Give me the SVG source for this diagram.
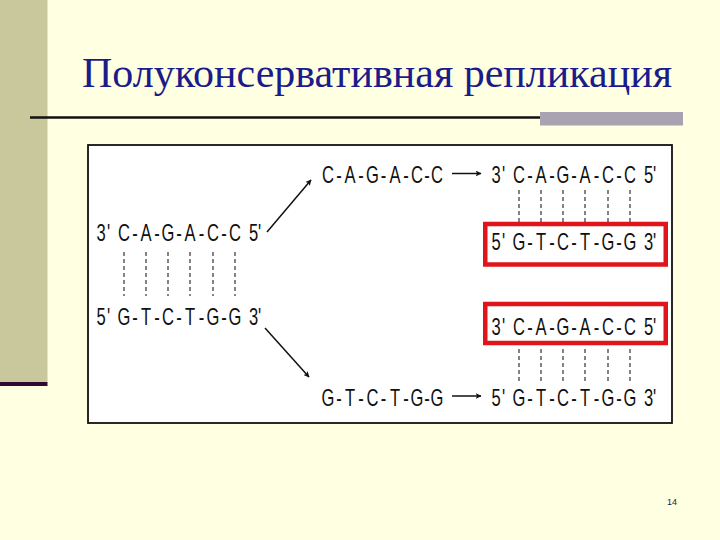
<svg xmlns="http://www.w3.org/2000/svg" width="720" height="540" viewBox="0 0 720 540">
<defs>
<marker id="ah" viewBox="0 0 10 10" refX="9" refY="5" markerWidth="6" markerHeight="6" orient="auto" markerUnits="userSpaceOnUse">
<path d="M0,0 L10,5 L0,10 L2.5,5 Z" fill="#111"/>
</marker>
<style>
.seq{font-family:"Liberation Sans",Arial,sans-serif;font-size:23px;fill:#111;text-anchor:middle}
.hb{stroke:#333;stroke-width:1.2;stroke-dasharray:4 3;fill:none}
.arr{stroke:#111;stroke-width:1.5;fill:none;marker-end:url(#ah)}
.red{fill:none;stroke:#E0141B;stroke-width:4.5}
</style>
</defs>
<rect x="0" y="0" width="720" height="540" fill="#FFFFE1"/>
<rect x="0" y="0" width="47.5" height="382" fill="#C8C89C"/>
<rect x="0" y="382" width="47.5" height="4" fill="#2E0A30"/>
<g id="title">
<text x="82" y="87" font-family="'Liberation Serif','Times New Roman',serif" font-size="42" fill="#1B1B8C">Полуконсервативная репликация</text>
<line x1="30" y1="117.5" x2="541" y2="117.5" stroke="#111" stroke-width="2.5"/>
<rect x="540" y="112" width="143" height="13.5" fill="#A9A2B1"/>
</g>
<rect id="panel" x="88" y="145" width="584" height="278" fill="#FFFFFF" stroke="#111" stroke-width="1.8"/>
<g id="parent">
<text class="seq" transform="scale(0.72 1)" x="140.28 150.69 156.94 172.22 187.5 202.78 218.06 233.33 248.61 263.89 279.86 295.83 311.11 326.39 338.89 352.08 360.42" y="241.5">3' C-A-G-A-C-C 5'</text>
<text class="seq" transform="scale(0.72 1)" x="140.28 150.69 156.94 172.22 187.5 202.78 218.06 233.33 248.61 263.89 279.86 295.83 311.11 326.39 338.89 352.08 360.42" y="325">5' G-T-C-T-G-G 3'</text>
<path class="hb" d="M124,252V296M146,252V296M168,252V296M190,252V296M213,252V296M235,252V296"/>
</g>
<g id="strand-top">
<text class="seq" transform="scale(0.72 1)" x="455.56 470.83 486.11 501.39 517.36 532.64 548.61 563.89 579.17 593.06 606.94" y="183">C-A-G-A-C-C</text>
</g>
<g id="strand-bottom">
<text class="seq" transform="scale(0.72 1)" x="455.56 470.83 486.11 501.39 517.36 532.64 548.61 563.89 579.17 593.06 606.94" y="406.5">G-T-C-T-G-G</text>
</g>
<g id="daughter-1">
<text class="seq" transform="scale(0.72 1)" x="688.89 699.31 705.56 720.83 736.11 751.39 766.67 781.94 797.22 812.5 828.47 844.44 859.72 875 887.5 900.69 909.03" y="183.5">3' C-A-G-A-C-C 5'</text>
<path class="hb" d="M519,190V222M541,190V222M563,190V222M585,190V222M608,190V222M630,190V222"/>
<rect class="red" x="485.25" y="224" width="180.5" height="40.5"/>
<text class="seq" transform="scale(0.72 1)" x="688.89 699.31 705.56 720.83 736.11 751.39 766.67 781.94 797.22 812.5 828.47 844.44 859.72 875 887.5 900.69 909.03" y="250">5' G-T-C-T-G-G 3'</text>
</g>
<g id="daughter-2">
<rect class="red" x="485.25" y="304" width="180.5" height="39"/>
<text class="seq" transform="scale(0.72 1)" x="688.89 699.31 705.56 720.83 736.11 751.39 766.67 781.94 797.22 812.5 828.47 844.44 859.72 875 887.5 900.69 909.03" y="335">3' C-A-G-A-C-C 5'</text>
<path class="hb" d="M519,349V381M541,349V381M563,349V381M585,349V381M608,349V381M630,349V381"/>
<text class="seq" transform="scale(0.72 1)" x="688.89 699.31 705.56 720.83 736.11 751.39 766.67 781.94 797.22 812.5 828.47 844.44 859.72 875 887.5 900.69 909.03" y="406.5">5' G-T-C-T-G-G 3'</text>
</g>
<g id="connectors">
<line class="arr" x1="267" y1="232" x2="311" y2="180"/>
<line class="arr" x1="265" y1="328" x2="309" y2="377"/>
<line class="arr" x1="452" y1="173.5" x2="481" y2="173.5"/>
<line class="arr" x1="452" y1="396" x2="481" y2="396"/>
</g>
<text id="page" x="672" y="505" font-family="'Liberation Sans',Arial,sans-serif" font-size="9" fill="#1B1B50" text-anchor="middle">14</text>
</svg>
